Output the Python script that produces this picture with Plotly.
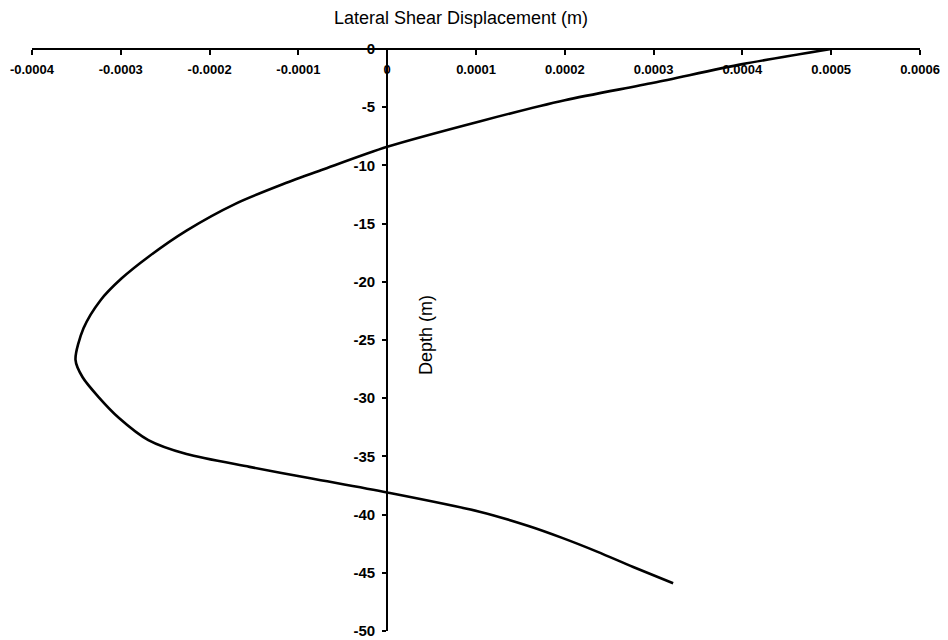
import plotly.graph_objects as go

# Lateral shear displacement (m) vs depth (m)
depth = [0, -1.3, -2.9, -4.4, -6.2, -8.4, -10.4, -11.6, -13.3, -15.6, -17.8, -19.7,
         -21.6, -24.0, -26.7, -28.2, -29.9, -31.7, -33.6, -34.8, -35.9, -36.9,
         -38.1, -39.75, -41.0, -42.0, -43.2, -44.5, -45.9]
displacement = [0.00050, 0.00040, 0.00030, 0.00020, 0.000105, 0.0, -0.000074, -0.000117,
                -0.000171, -0.000226, -0.000268, -0.000299, -0.000323, -0.000342,
                -0.000351, -0.000343, -0.000325, -0.000302, -0.000269, -0.000226,
                -0.000155, -0.000085, 0.0, 0.000104, 0.000160, 0.000197,
                0.000237, 0.000277, 0.000322]

x_tick_vals = [-0.0004, -0.0003, -0.0002, -0.0001, 0, 0.0001, 0.0002, 0.0003, 0.0004, 0.0005, 0.0006]
x_tick_text = ["-0.0004", "-0.0003", "-0.0002", "-0.0001", "0", "0.0001", "0.0002",
               "0.0003", "0.0004", "0.0005", "0.0006"]
y_tick_vals = [0, -5, -10, -15, -20, -25, -30, -35, -40, -45, -50]
y_tick_text = ["0", "-5", "-10", "-15", "-20", "-25", "-30", "-35", "-40", "-45", "-50"]

x_title = "Lateral Shear Displacement (m)"
y_title = "Depth (m)"

FONT = "Liberation Sans, Arial, sans-serif"

fig = go.Figure()
fig.add_trace(go.Scatter(
    x=displacement, y=depth, mode="lines",
    line=dict(color="black", width=2.6, shape="spline", smoothing=0.8),
    showlegend=False, hoverinfo="skip",
))

fig.update_layout(
    width=940, height=632,
    margin=dict(l=24, r=28, t=41, b=9),
    paper_bgcolor="white", plot_bgcolor="white",
    font=dict(family=FONT, color="black"),
    xaxis=dict(
        range=[-0.0004, 0.0006], domain=[0, 1],
        anchor="free", position=1.0, side="bottom",
        tickvals=x_tick_vals, ticktext=x_tick_text,
        showline=True, linecolor="black", linewidth=2,
        ticks="outside", ticklen=5, tickwidth=1.5, tickcolor="black",
        ticklabelstandoff=3, ticklabeloverflow="allow",
        tickfont=dict(family=FONT, size=13, color="black", weight="bold"),
        showgrid=False, zeroline=False, automargin=False,
    ),
    yaxis=dict(
        range=[-50, 0], domain=[0, 1],
        anchor="free", position=0.4,
        tickvals=y_tick_vals, ticktext=y_tick_text,
        showline=True, linecolor="black", linewidth=2,
        ticks="outside", ticklen=4, tickwidth=1.5, tickcolor="black",
        ticklabelstandoff=4, ticklabeloverflow="allow",
        tickfont=dict(family=FONT, size=15, color="black", weight="bold"),
        showgrid=False, zeroline=False, automargin=False,
    ),
    annotations=[
        dict(text=x_title, xref="paper", yref="paper", x=0.483, y=1.053,
             xanchor="center", yanchor="middle", showarrow=False,
             font=dict(family=FONT, size=18, color="black")),
        dict(text=y_title, xref="paper", yref="paper", x=0.4437, y=0.5086,
             xanchor="center", yanchor="middle", showarrow=False, textangle=-90,
             font=dict(family=FONT, size=18, color="black")),
    ],
)

fig.write_html("out.html")
